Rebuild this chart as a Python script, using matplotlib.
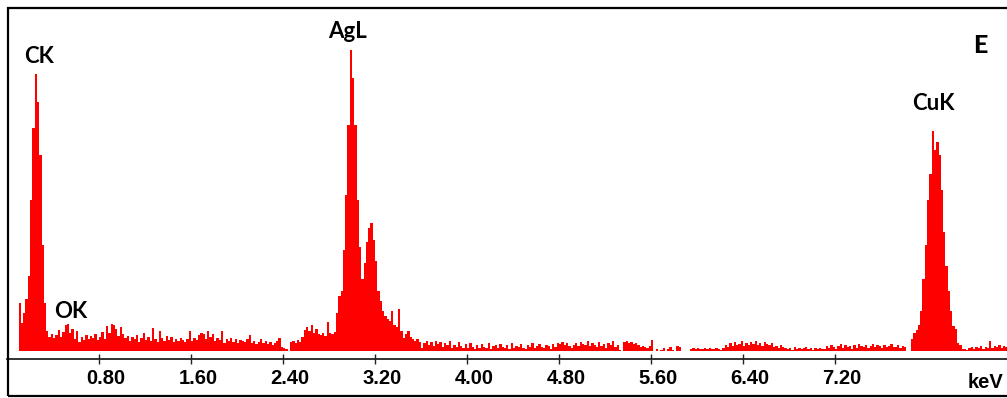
import numpy as np
import matplotlib
matplotlib.use("Agg")
import matplotlib.pyplot as plt
from matplotlib.patches import Rectangle
from matplotlib.transforms import ScaledTranslation

# EDS spectrum, 0.02 keV channels starting at 0 keV
channel_width = 0.02

# counts (arbitrary units), region by region
counts_c_region = [0, 0, 0, 0, 0, 48, 28, 38, 52, 75, 150, 222, 276, 248, 195,
                   105, 48, 20, 14]
counts_bg_low = [17, 13, 16, 21, 14, 19, 26, 27, 18, 22, 12, 20, 9, 14, 11, 16,
                 12, 15, 13, 17, 11, 14, 19, 12, 25, 18, 27, 26, 22, 15, 24, 17,
                 13, 15, 10, 14, 12, 16, 9, 13, 18, 11, 14, 10, 23, 12, 9, 20,
                 13, 10, 15, 11, 14, 9, 12, 10, 13, 11, 9, 12, 20, 10, 13, 11,
                 16, 18, 17, 12, 20, 14, 17, 10, 13, 11, 20, 8, 12, 10, 13, 9,
                 12, 8, 11, 10, 9, 12, 16, 8, 10, 7, 9, 12, 8, 10, 7, 9, 6, 8,
                 10, 13, 4, 3, 2, 0, 9, 10, 8, 11, 9, 14, 21, 24, 20, 26, 18,
                 22, 17, 16, 18, 15, 29, 18, 17, 19]
counts_ag_region = [38, 55, 60, 100, 155, 225, 300, 272, 225, 150, 103, 72, 88,
                    108, 122, 127, 110, 90, 60, 50, 40, 35, 32, 30, 40, 26, 24,
                    42, 20, 13, 17, 20, 14, 12, 10, 12, 9]
counts_ag_tail = [3, 8, 10, 6, 9, 5, 10, 7, 9, 4, 8, 6, 10, 3, 6, 4, 9, 5, 3]
counts_bg_mid = [7, 3, 8, 4, 2, 6, 3, 7, 4, 3, 8, 2, 5, 6, 3,
                 7, 4, 3, 6, 2, 8, 3, 5, 4, 7, 3, 2, 6, 4, 8, 3, 5, 7, 4, 3, 6,
                 5, 2, 7, 4,
                 8, 7, 9, 6, 8, 5, 3,
                 6, 8, 5, 9, 7, 6, 10, 5, 8, 6, 4, 9, 5, 7, 3, 8, 6, 10, 4, 6,
                 1, 0,
                 9, 10, 8, 9, 7, 8, 6,
                 4, 5, 4, 3, 5,
                 11,
                 0, 2, 0, 1, 3, 0, 2, 4, 1, 0, 5, 4, 0, 0, 0, 0,
                 2, 3, 2, 3, 2, 2, 3, 2, 3, 2, 2, 3, 2, 1, 3,
                 6, 4, 8, 5, 9, 6, 7, 10, 5, 8, 6, 9, 7, 10, 6, 8, 5, 9, 7, 6,
                 8, 4, 5, 3, 6, 4, 3,
                 2, 3, 1, 4, 2, 3, 2, 3, 4, 2, 3, 1, 3, 2, 3, 2, 2,
                 5, 3, 6, 4, 2, 5, 7, 3, 6, 4, 5, 2, 6, 3, 7, 5, 4, 6, 3, 5,
                 7, 4, 6, 5, 3, 6, 4, 5, 7, 4]
counts_cu_region = [4, 6, 3, 5, 4, 0, 0, 12, 18, 21, 26, 40, 72, 105, 150, 176,
                    219, 200, 208, 195, 160, 118, 85, 60, 40, 25, 22, 8, 6, 2,
                    2, 1, 3, 4, 2, 4, 3, 5, 2, 4, 3, 10, 3, 5, 4, 6, 3, 5, 4]

tick_values = [0.80, 1.60, 2.40, 3.20, 4.00, 4.80, 5.60, 6.40, 7.20]
tick_labels = ["0.80", "1.60", "2.40", "3.20", "4.00", "4.80", "5.60", "6.40",
               "7.20"]
peak_labels = ["CK", "OK", "AgL", "CuK"]
panel_letter = "E"
unit_label = "keV"

counts = np.array(counts_c_region + counts_bg_low + counts_ag_region
                  + counts_ag_tail + counts_bg_mid + counts_cu_region)
edges = np.arange(len(counts) + 1) * channel_width

W, H = 1007, 398
fig = plt.figure(figsize=(W / 100, H / 100), dpi=100)
ax = fig.add_axes([7 / W, 39 / H, 1000 / W, 352 / H])

ax.stairs(counts, edges, fill=True, color="red", linewidth=0)
ax.set_xlim(0, 1000 / 115)
ax.set_ylim(-8.5, 343.5)

for side in ["left", "top", "right"]:
    ax.spines[side].set_visible(False)
ax.spines["bottom"].set_color("#222222")
ax.spines["bottom"].set_linewidth(1.3)

tick_font = dict(family=["Liberation Sans", "DejaVu Sans"], fontweight="bold",
                 fontsize=14.5)

ax.set_yticks([])
ax.set_xticks(tick_values)
ax.set_xticklabels(tick_labels, **tick_font)
ax.tick_params(axis="x", direction="inout", length=7, width=1,
               color="#222222", pad=3.5)
shift = ScaledTranslation(7 / 100, 0, fig.dpi_scale_trans)
for lab in ax.get_xticklabels():
    lab.set_transform(lab.get_transform() + shift)

# outer frame (right side runs off the image)
fig.add_artist(Rectangle((7.7 / W, 2.5 / H), 1.2, 388 / H, fill=False,
                         edgecolor="black", linewidth=1.6,
                         transform=fig.transFigure))

fig.text(1003 / W, (H - 388) / H, unit_label, ha="right", va="baseline",
         **tick_font)

label_font = dict(family=["Lato", "DejaVu Sans"], fontweight="bold",
                  fontsize=16, ha="center", va="baseline")
label_pos = [(0.283, 287.5), (0.552, 32), (2.965, 312), (8.052, 240.5)]
for name, (x, y) in zip(peak_labels, label_pos):
    ax.text(x, y, name, **label_font)
ax.text(8.461, 297.5, panel_letter, family=["Lato", "DejaVu Sans"],
        fontweight="black", fontsize=18, ha="center", va="baseline")

fig.savefig("out.png", dpi=100)
